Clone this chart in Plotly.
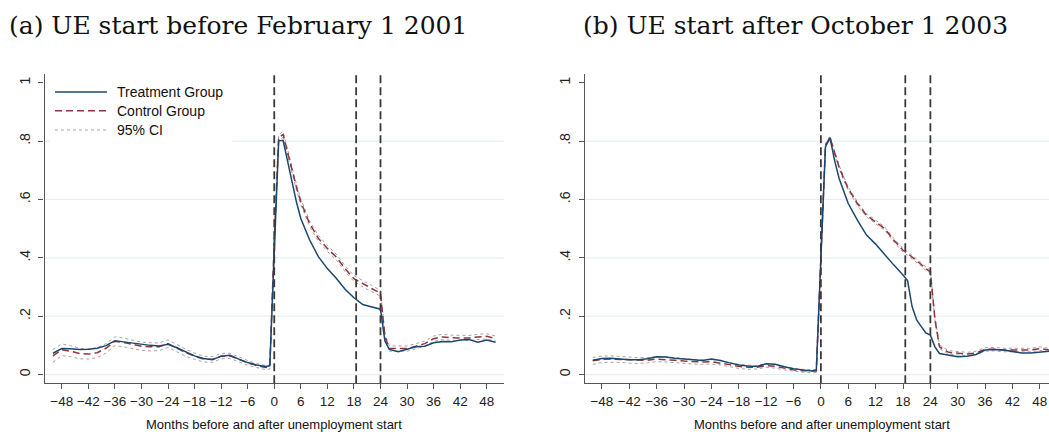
import plotly.graph_objects as go

# Months relative to unemployment start
months = [-50, -48, -46, -44, -42, -40, -38, -36, -34, -32, -30, -28, -26, -24,
          -22, -20, -18, -16, -14, -12, -10, -8, -6, -4, -2, -1,
          0, 1, 2, 3, 4, 5, 6, 8, 10, 12, 14, 16, 18, 19, 20, 21, 22, 23, 24,
          25, 26, 28, 30, 32, 34, 36, 38, 40, 42, 44, 46, 48, 50]

# Panel (a): UE start before February 1 2001
treat_a = [0.073, 0.089, 0.088, 0.086, 0.087, 0.090, 0.099, 0.116, 0.112, 0.108,
           0.103, 0.100, 0.098, 0.104, 0.092, 0.077, 0.064, 0.055, 0.051, 0.063,
           0.066, 0.053, 0.041, 0.033, 0.028, 0.030,
           0.450, 0.801, 0.803, 0.734, 0.660, 0.592, 0.535, 0.461, 0.403, 0.363,
           0.330, 0.292, 0.263, 0.252, 0.240, 0.236, 0.232, 0.226, 0.224,
           0.115, 0.086, 0.078, 0.086, 0.095, 0.097, 0.109, 0.113, 0.112, 0.118,
           0.120, 0.111, 0.118, 0.111]
control_a = [0.064, 0.085, 0.080, 0.072, 0.070, 0.075, 0.090, 0.114, 0.110, 0.104,
             0.097, 0.095, 0.095, 0.106, 0.091, 0.075, 0.063, 0.053, 0.052, 0.063,
             0.064, 0.052, 0.040, 0.031, 0.024, 0.026,
             0.460, 0.812, 0.823, 0.763, 0.700, 0.643, 0.592, 0.517, 0.466, 0.432,
             0.403, 0.363, 0.329, 0.320, 0.310, 0.302, 0.295, 0.287, 0.278,
             0.130, 0.089, 0.089, 0.089, 0.097, 0.106, 0.123, 0.129, 0.126, 0.125,
             0.125, 0.129, 0.131, 0.123]
ci_half_a = [0.022, 0.020, 0.019, 0.018, 0.017, 0.017, 0.016, 0.015, 0.015, 0.014,
             0.014, 0.014, 0.013, 0.013, 0.012, 0.012, 0.011, 0.010, 0.010, 0.009,
             0.009, 0.008, 0.008, 0.007, 0.007, 0.007,
             0.010, 0.010, 0.010, 0.010, 0.010, 0.010, 0.010, 0.010, 0.010, 0.010,
             0.010, 0.010, 0.010, 0.010, 0.010, 0.010, 0.010, 0.010, 0.010,
             0.009, 0.009, 0.009, 0.009, 0.009, 0.009, 0.009, 0.009, 0.009, 0.009,
             0.009, 0.009, 0.009, 0.009]

# Panel (b): UE start after October 1 2003
treat_b = [0.049, 0.055, 0.056, 0.053, 0.051, 0.051, 0.054, 0.061, 0.060, 0.056,
           0.054, 0.051, 0.048, 0.053, 0.048, 0.040, 0.033, 0.029, 0.028, 0.037,
           0.035, 0.027, 0.020, 0.016, 0.012, 0.015,
           0.400, 0.780, 0.812, 0.734, 0.672, 0.626, 0.586, 0.529, 0.478, 0.447,
           0.409, 0.375, 0.341, 0.322, 0.232, 0.187, 0.164, 0.143, 0.135,
           0.095, 0.072, 0.067, 0.061, 0.063, 0.069, 0.084, 0.086, 0.084, 0.078,
           0.074, 0.074, 0.078, 0.080]
control_b = [0.047, 0.052, 0.053, 0.052, 0.049, 0.048, 0.049, 0.053, 0.052, 0.049,
             0.046, 0.044, 0.043, 0.044, 0.040, 0.034, 0.028, 0.025, 0.025, 0.031,
             0.028, 0.022, 0.016, 0.013, 0.011, 0.012,
             0.400, 0.786, 0.812, 0.757, 0.711, 0.672, 0.637, 0.586, 0.546, 0.523,
             0.500, 0.460, 0.426, 0.415, 0.403, 0.390, 0.377, 0.363, 0.352,
             0.190, 0.095, 0.076, 0.072, 0.070, 0.074, 0.086, 0.087, 0.084, 0.084,
             0.084, 0.084, 0.089, 0.084]
ci_half_b = [0.012, 0.011, 0.011, 0.010, 0.010, 0.010, 0.009, 0.009, 0.009, 0.009,
             0.008, 0.008, 0.008, 0.008, 0.007, 0.007, 0.007, 0.007, 0.006, 0.006,
             0.006, 0.006, 0.005, 0.005, 0.005, 0.005,
             0.006, 0.006, 0.006, 0.006, 0.006, 0.006, 0.006, 0.006, 0.006, 0.006,
             0.006, 0.006, 0.006, 0.006, 0.006, 0.006, 0.006, 0.006, 0.006,
             0.006, 0.006, 0.006, 0.006, 0.006, 0.006, 0.006, 0.006, 0.006, 0.006,
             0.006, 0.006, 0.006, 0.006]

# Reference months marked by vertical lines
event_months = [0, 18.5, 24]

x_ticks = list(range(-48, 49, 6))
x_ticktext = [("\u2212" + str(-v)) if v < 0 else str(v) for v in x_ticks]
y_ticks = [0, 0.2, 0.4, 0.6, 0.8, 1.0]
y_ticktext = ["0", ".2", ".4", ".6", ".8", "1"]
grid_vals = [0, 0.2, 0.4, 0.6, 0.8]

panel_titles = ["(a) UE start before February 1 2001",
                "(b) UE start after October 1 2003"]
x_title = "Months before and after unemployment start"
legend_labels = ["Treatment Group", "Control Group", "95% CI"]

W, H = 1049, 436
NAVY = "#1a476f"
MAROON = "#90353b"
CI_GREY = "#a8a0a0"
AXIS = "#555555"
GRID = "#e6eff1"
SANS = "Liberation Sans, Arial, Helvetica, sans-serif"

fig = go.Figure()

panels = [
    ("x", "y", treat_a, control_a, ci_half_a),
    ("x2", "y2", treat_b, control_b, ci_half_b),
]
for xa, ya, tr, co, hw in panels:
    lo = [c - h for c, h in zip(co, hw)]
    hi = [c + h for c, h in zip(co, hw)]
    for band in (lo, hi):
        fig.add_trace(go.Scatter(x=months, y=band, mode="lines", xaxis=xa, yaxis=ya,
                                 line=dict(color=CI_GREY, width=1, dash="dot"),
                                 showlegend=False, hoverinfo="skip"))
    fig.add_trace(go.Scatter(x=months, y=co, mode="lines", xaxis=xa, yaxis=ya,
                             line=dict(color=MAROON, width=1.5, dash="7px,4px"),
                             showlegend=False))
    fig.add_trace(go.Scatter(x=months, y=tr, mode="lines", xaxis=xa, yaxis=ya,
                             line=dict(color=NAVY, width=1.5),
                             showlegend=False))

xaxis_common = dict(tickvals=x_ticks, ticktext=x_ticktext, ticks="outside",
                    ticklen=5, tickwidth=1.2, tickcolor=AXIS, showline=True,
                    linecolor=AXIS, linewidth=1.3, showgrid=False, zeroline=False,
                    tickfont=dict(family=SANS, size=13.5, color="#222222"))
yaxis_common = dict(range=[-0.03, 1.03], tickvals=y_ticks, ticktext=y_ticktext,
                    tickangle=-90, ticks="outside", ticklen=5, tickwidth=1.2,
                    tickcolor=AXIS, showline=True, linecolor=AXIS, linewidth=1.3,
                    showgrid=False, zeroline=False, ticklabelstandoff=3,
                    tickfont=dict(family=SANS, size=14, color="#222222"))

y_dom = [(436 - 383.3) / H, (436 - 74) / H]
fig.update_layout(
    width=W, height=H,
    margin=dict(l=0, r=0, t=0, b=0),
    paper_bgcolor="white", plot_bgcolor="white",
    showlegend=False,
    xaxis=dict(domain=[44.5 / W, 504 / W], range=[-51.9, 51.9], anchor="y", **xaxis_common),
    yaxis=dict(domain=y_dom, anchor="x", **yaxis_common),
    xaxis2=dict(domain=[585 / W, 1.0], range=[-51.7, 50.0], anchor="y2", **xaxis_common),
    yaxis2=dict(domain=y_dom, anchor="x2", **yaxis_common),
)

shapes = []
# horizontal grid lines
for xa, ya in (("x", "y"), ("x2", "y2")):
    for g in grid_vals:
        shapes.append(dict(type="line", xref=xa + " domain", yref=ya, x0=0, x1=1,
                           y0=g, y1=g, line=dict(color=GRID, width=1.2), layer="below"))
# white legend box on panel (a)
shapes.append(dict(type="rect", xref="paper", yref="paper",
                   x0=50 / W, x1=232 / W, y0=(436 - 146) / H, y1=(436 - 80) / H,
                   fillcolor="white", line=dict(width=0), layer="below"))
# vertical event lines
for xa, ya in (("x", "y"), ("x2", "y2")):
    for m in event_months:
        shapes.append(dict(type="line", xref=xa, yref=ya + " domain", x0=m, x1=m,
                           y0=0, y1=1, line=dict(color="#3a3a3a", width=1.8, dash="8px,4px")))

# legend symbols
legend_rows = [92, 110.7, 130]
legend_styles = [dict(color=NAVY, width=1.5),
                 dict(color=MAROON, width=1.5, dash="7px,4px"),
                 dict(color=CI_GREY, width=1, dash="dot")]
for row, style in zip(legend_rows, legend_styles):
    yy = (436 - row) / H
    shapes.append(dict(type="line", xref="paper", yref="paper", x0=55 / W, x1=107 / W,
                       y0=yy, y1=yy, line=style))
fig.update_layout(shapes=shapes)

annotations = []
for label, row in zip(legend_labels, legend_rows):
    annotations.append(dict(text=label, xref="paper", yref="paper", x=115 / W,
                            y=(436 - row) / H, xanchor="left", yanchor="middle",
                            showarrow=False, font=dict(family=SANS, size=14, color="#111111")))
for title, x0 in zip(panel_titles, (7, 581)):
    annotations.append(dict(text=title, xref="paper", yref="paper", x=x0 / W,
                            y=(436 - 25) / H, xanchor="left", yanchor="middle",
                            showarrow=False,
                            font=dict(family="DejaVu Serif, Liberation Serif, serif",
                                      size=25, color="#111111")))
for xc in (274.3, 821.5):
    annotations.append(dict(text=x_title, xref="paper", yref="paper", x=xc / W,
                            y=2 / H, xanchor="center", yanchor="bottom",
                            showarrow=False, font=dict(family=SANS, size=13, color="#111111")))
fig.update_layout(annotations=annotations)

fig.write_html("out.html")
